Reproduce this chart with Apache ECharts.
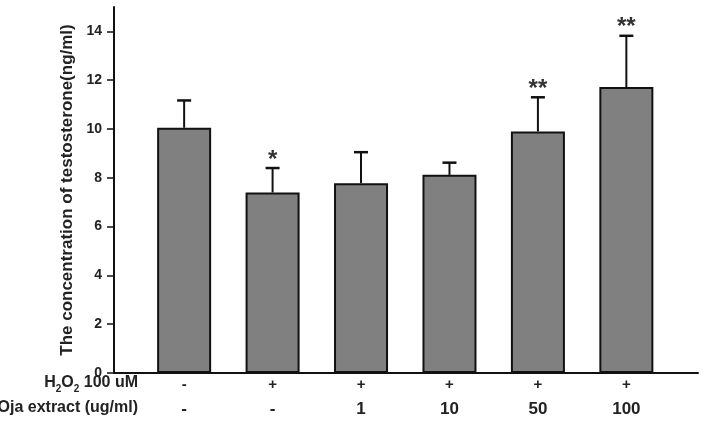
<!DOCTYPE html>
<html>
<head>
<meta charset="utf-8">
<script src="https://cdn.jsdelivr.net/npm/echarts@6/dist/echarts.min.js"></script>
<style>html,body{margin:0;padding:0;background:#fff;}#c{width:711px;height:431px;}</style>
</head>
<body>
<div id="c"></div>
<script>
const xPos = [1, 2, 3, 4, 5, 6];
const h2o2Row = ['-', '+', '+', '+', '+', '+'];
const ojaRow = ['-', '-', '1', '10', '50', '100'];
const means = [10.05, 7.40, 7.78, 8.12, 9.90, 11.72];
const errors = [1.12, 1.00, 1.27, 0.50, 1.40, 2.10];
const sig = ['', '*', '', '', '**', '**'];
const yTicks = [0, 2, 4, 6, 8, 10, 12, 14];
const yTitle = 'The concentration of testosterone(ng/ml)';
const rowTitle2 = 'Oja extract (ug/ml)';

const chart = echarts.init(document.getElementById('c'), null, {renderer: 'canvas'});
const FONT = 'Liberation Sans, Arial, sans-serif';
const barData = xPos.map((x, i) => [x, means[i]]);
const errData = xPos.map((x, i) => [x, means[i], errors[i], i]);

chart.setOption({
  animation: false,
  backgroundColor: '#fff',
  grid: {left: 114, right: 13, top: 7, bottom: 58, containLabel: false},
  xAxis: {
    type: 'value', min: 0.207, max: 6.81,
    splitLine: {show: false},
    axisLine: {show: true, onZero: false, lineStyle: {color: '#111', width: 2}},
    axisTick: {show: false},
    axisLabel: {
      show: true, customValues: xPos, margin: 0,
      formatter: function (v) {
        const i = xPos.indexOf(v);
        return '{a|' + h2o2Row[i] + '}\n{b|' + ojaRow[i] + '}';
      },
      rich: {
        a: {fontFamily: FONT, fontWeight: 'bold', fontSize: 15, color: '#222', lineHeight: 24},
        b: {fontFamily: FONT, fontWeight: 'bold', fontSize: 17, color: '#222', lineHeight: 24}
      }
    }
  },
  yAxis: {
    type: 'value', min: 0, max: 15,
    name: yTitle, nameLocation: 'middle', nameRotate: 90, nameGap: 36,
    nameTextStyle: {fontFamily: FONT, fontWeight: 'bold', fontSize: 17, color: '#222'},
    splitLine: {show: false},
    axisLine: {show: true, onZero: false, lineStyle: {color: '#111', width: 2}},
    axisTick: {show: true, length: 7, customValues: yTicks, lineStyle: {color: '#111', width: 1.5}},
    axisLabel: {customValues: yTicks, margin: 12, fontFamily: FONT, fontWeight: 'bold', fontSize: 14, color: '#222'}
  },
  graphic: [
    {type: 'text', right: 711 - 138, top: 375, style: {
      text: '{n|H}{s|2}{n|O}{s|2}{n| 100 uM}',
      rich: {
        n: {fontFamily: FONT, fontWeight: 'bold', fontSize: 16, fill: '#222', lineHeight: 19, verticalAlign: 'bottom'},
        s: {fontFamily: FONT, fontWeight: 'bold', fontSize: 10, fill: '#222', lineHeight: 19, verticalAlign: 'bottom', padding: [0, 0, -3, 0]}
      }
    }},
    {type: 'text', right: 711 - 138, top: 400, style: {
      text: rowTitle2, fontFamily: FONT, fontWeight: 'bold', fontSize: 16, fill: '#222'
    }}
  ],
  series: [
    {
      type: 'bar', data: barData, barWidth: 54,
      itemStyle: {color: '#808080', borderColor: '#111', borderWidth: 2},
      z: 2
    },
    {
      type: 'custom', data: errData, z: 3,
      renderItem: function (params, api) {
        const x = api.value(0), m = api.value(1), e = api.value(2), idx = api.value(3);
        const p0 = api.coord([x, m]);
        const p1 = api.coord([x, m + e]);
        const hw = 7;
        const children = [
          {type: 'line', shape: {x1: p0[0], y1: p0[1], x2: p1[0], y2: p1[1]}, style: {stroke: '#111', lineWidth: 2}},
          {type: 'line', shape: {x1: p1[0] - hw, y1: p1[1], x2: p1[0] + hw, y2: p1[1]}, style: {stroke: '#111', lineWidth: 2.5}}
        ];
        if (sig[idx]) {
          children.push({type: 'text', x: p1[0], y: p1[1] + 4, style: {
            text: sig[idx], fontFamily: FONT, fontWeight: 'bold', fontSize: 24, fill: '#333',
            align: 'center', verticalAlign: 'bottom'
          }});
        }
        return {type: 'group', children: children};
      }
    }
  ]
});
</script>
</body>
</html>
